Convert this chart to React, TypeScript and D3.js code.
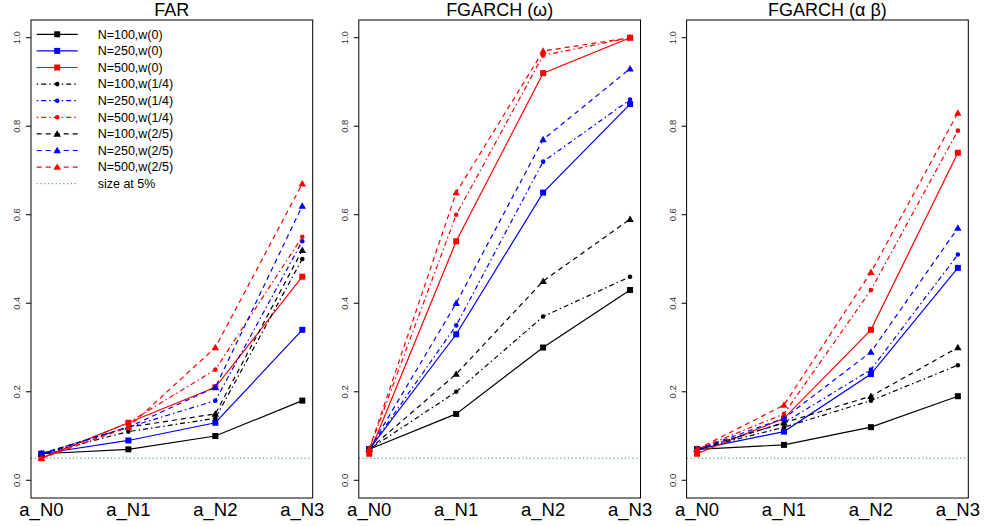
import React from "react";
import * as d3 from "d3";

// ---- data ----
const categories = ["a_N0", "a_N1", "a_N2", "a_N3"];
const yTicks = [0, 0.2, 0.4, 0.6, 0.8, 1.0];
const sizeLevel = 0.05;
const panelTitles = ["FAR", "FGARCH (\u03C9)", "FGARCH (\u03B1 \u03B2)"];
const legendLabels = [
  "N=100,w(0)", "N=250,w(0)", "N=500,w(0)",
  "N=100,w(1/4)", "N=250,w(1/4)", "N=500,w(1/4)",
  "N=100,w(2/5)", "N=250,w(2/5)", "N=500,w(2/5)",
];
const refLabel = "size at 5%";

// FAR
const FAR_N100_W0 = [0.06, 0.07, 0.10, 0.18];
const FAR_N250_W0 = [0.06, 0.09, 0.13, 0.34];
const FAR_N500_W0 = [0.05, 0.13, 0.21, 0.46];
const FAR_N100_W14 = [0.06, 0.11, 0.14, 0.50];
const FAR_N250_W14 = [0.06, 0.12, 0.18, 0.54];
const FAR_N500_W14 = [0.05, 0.13, 0.25, 0.55];
const FAR_N100_W25 = [0.06, 0.12, 0.15, 0.52];
const FAR_N250_W25 = [0.06, 0.12, 0.21, 0.62];
const FAR_N500_W25 = [0.05, 0.12, 0.30, 0.67];

// FGARCH (omega)
const FGO_N100_W0 = [0.07, 0.15, 0.30, 0.43];
const FGO_N250_W0 = [0.07, 0.33, 0.65, 0.85];
const FGO_N500_W0 = [0.06, 0.54, 0.92, 1.00];
const FGO_N100_W14 = [0.07, 0.20, 0.37, 0.46];
const FGO_N250_W14 = [0.07, 0.35, 0.72, 0.86];
const FGO_N500_W14 = [0.07, 0.60, 0.96, 1.00];
const FGO_N100_W25 = [0.07, 0.24, 0.45, 0.59];
const FGO_N250_W25 = [0.07, 0.40, 0.77, 0.93];
const FGO_N500_W25 = [0.07, 0.65, 0.97, 1.00];

// FGARCH (alpha beta)
const FGAB_N100_W0 = [0.07, 0.08, 0.12, 0.19];
const FGAB_N250_W0 = [0.07, 0.11, 0.24, 0.48];
const FGAB_N500_W0 = [0.06, 0.14, 0.34, 0.74];
const FGAB_N100_W14 = [0.07, 0.12, 0.18, 0.26];
const FGAB_N250_W14 = [0.07, 0.13, 0.25, 0.51];
const FGAB_N500_W14 = [0.07, 0.15, 0.43, 0.79];
const FGAB_N100_W25 = [0.07, 0.13, 0.19, 0.30];
const FGAB_N250_W25 = [0.07, 0.14, 0.29, 0.57];
const FGAB_N500_W25 = [0.07, 0.17, 0.47, 0.83];

const panelSeries = [
  [FAR_N100_W0, FAR_N250_W0, FAR_N500_W0, FAR_N100_W14, FAR_N250_W14, FAR_N500_W14, FAR_N100_W25, FAR_N250_W25, FAR_N500_W25],
  [FGO_N100_W0, FGO_N250_W0, FGO_N500_W0, FGO_N100_W14, FGO_N250_W14, FGO_N500_W14, FGO_N100_W25, FGO_N250_W25, FGO_N500_W25],
  [FGAB_N100_W0, FGAB_N250_W0, FGAB_N500_W0, FGAB_N100_W14, FGAB_N250_W14, FGAB_N500_W14, FGAB_N100_W25, FGAB_N250_W25, FGAB_N500_W25],
];

// ---- styles ----
const COLORS = ["#000000", "#0000FF", "#FF0000"];
const DASHES = [null, "1.5,3,5,3", "5,4"];
const SHAPES = ["square", "circle", "triangle"];
const REF_COLOR = "#2E8B57";
const FONT = "'Liberation Sans', Arial, Helvetica, sans-serif";

const W = 984, H = 526;
const PANEL_LEFT0 = 31, PANEL_STEP = 327.8, PANEL_W = 281.7;
const PANEL_TOP = 20, PANEL_BOTTOM = 498;

function Marker({ shape, x, y, color }: { shape: string; x: number; y: number; color: string }) {
  if (shape === "square") {
    const s = 6;
    return <rect x={x - s / 2} y={y - s / 2} width={s} height={s} fill={color} />;
  }
  if (shape === "circle") {
    return <circle cx={x} cy={y} r={2.3} fill={color} />;
  }
  const sym = d3.symbol().type(d3.symbolTriangle).size(24)();
  return <path d={sym || ""} transform={`translate(${x},${y + 0.6})`} fill={color} />;
}

function Panel({ idx }: { idx: number }) {
  const left = PANEL_LEFT0 + idx * PANEL_STEP;
  const right = left + PANEL_W;
  const x = d3.scaleLinear().domain([0.88, 4.12]).range([left, right]);
  const y = d3.scaleLinear().domain([-0.04, 1.04]).range([PANEL_BOTTOM, PANEL_TOP]);
  const line = d3
    .line<number>()
    .x((_, i) => x(i + 1))
    .y((d) => y(d));
  const series = panelSeries[idx];
  return (
    <g>
      <text x={(left + right) / 2} y={16} textAnchor="middle" fontSize={18} fontFamily={FONT} fill="#000">
        {panelTitles[idx]}
      </text>
      <line x1={left} x2={right} y1={y(sizeLevel)} y2={y(sizeLevel)} stroke={REF_COLOR} strokeWidth={1} strokeDasharray="1.2,2.6" />
      {series.map((vals, s) => {
        const color = COLORS[s % 3];
        const dash = DASHES[Math.floor(s / 3)];
        const shape = SHAPES[Math.floor(s / 3)];
        return (
          <g key={s}>
            <path d={line(vals) || ""} fill="none" stroke={color} strokeWidth={1.2} strokeDasharray={dash || undefined} />
            {vals.map((v, i) => (
              <Marker key={i} shape={shape} x={x(i + 1)} y={y(v)} color={color} />
            ))}
          </g>
        );
      })}
      <rect x={left} y={PANEL_TOP} width={PANEL_W} height={PANEL_BOTTOM - PANEL_TOP} fill="none" stroke="#000" strokeWidth={1} />
      {yTicks.map((t) => (
        <g key={t}>
          <line x1={left - 5} x2={left} y1={y(t)} y2={y(t)} stroke="#000" strokeWidth={1} />
          <text
            transform={`translate(${left - 14},${y(t)}) rotate(-90)`}
            textAnchor="middle"
            dy="0.35em"
            fontSize={9.5}
            fontFamily={FONT}
            fill="#333"
          >
            {t.toFixed(1)}
          </text>
        </g>
      ))}
      {categories.map((c, i) => (
        <text key={c} x={x(i + 1)} y={516} textAnchor="middle" fontSize={18.5} fontFamily={FONT} fill="#000">
          {c}
        </text>
      ))}
    </g>
  );
}

function Legend() {
  const x0 = 36.7, x1 = 77.7, xm = 57.2, xt = 97.7;
  const y0 = 34.3, dy = 16.6;
  return (
    <g>
      {legendLabels.map((lab, s) => {
        const color = COLORS[s % 3];
        const dash = DASHES[Math.floor(s / 3)];
        const shape = SHAPES[Math.floor(s / 3)];
        const yy = y0 + s * dy;
        return (
          <g key={lab}>
            <line x1={x0} x2={x1} y1={yy} y2={yy} stroke={color} strokeWidth={1.2} strokeDasharray={dash || undefined} />
            <Marker shape={shape} x={xm} y={yy} color={color} />
            <text x={xt} y={yy} dy="0.35em" fontSize={12.5} fontFamily={FONT} fill="#000">
              {lab}
            </text>
          </g>
        );
      })}
      <line x1={x0} x2={x1} y1={y0 + 9 * dy} y2={y0 + 9 * dy} stroke={REF_COLOR} strokeWidth={1} strokeDasharray="1.2,2.6" />
      <text x={xt} y={y0 + 9 * dy} dy="0.35em" fontSize={12.5} fontFamily={FONT} fill="#000">
        {refLabel}
      </text>
    </g>
  );
}

export default function App() {
  return (
    <svg
      width={W}
      height={H}
      viewBox={`0 0 ${W} ${H}`}
      style={{ position: "absolute", left: 0, top: 0, background: "#fff" }}
    >
      <rect width={W} height={H} fill="#fff" />
      {[0, 1, 2].map((i) => (
        <Panel key={i} idx={i} />
      ))}
      <Legend />
    </svg>
  );
}
